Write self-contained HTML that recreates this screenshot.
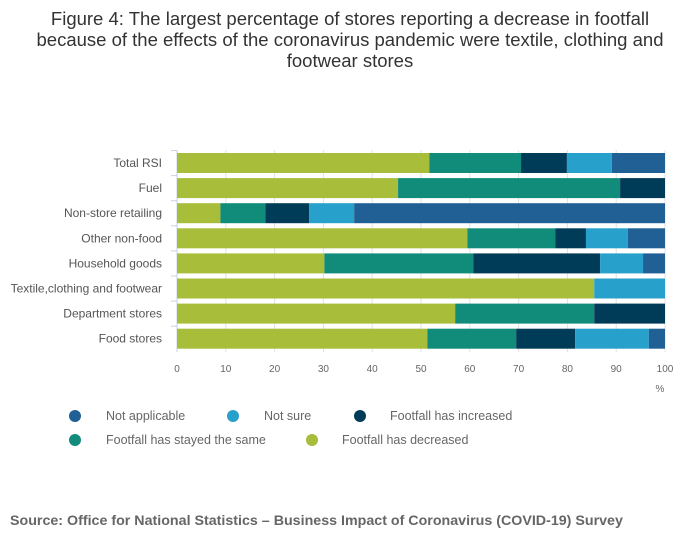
<!DOCTYPE html>
<html><head><meta charset="utf-8">
<style>
body{margin:0;background:#fff;font-family:"Liberation Sans",sans-serif;}
#wrap{position:relative;width:700px;height:549px;overflow:hidden;}
h1{position:absolute;left:30px;top:8px;width:640px;margin:0;text-align:center;font-weight:normal;font-size:18.5px;line-height:21px;color:#333;}
#src{position:absolute;left:10px;top:513px;font-size:14.25px;font-weight:bold;color:#666;white-space:nowrap;}
</style></head><body>
<div id="wrap">
<h1>Figure 4: The largest percentage of stores reporting a decrease in footfall because of the effects of the coronavirus pandemic were textile, clothing and footwear stores</h1>
<svg id="chart" width="700" height="549" style="position:absolute;left:0;top:0"></svg>
<div id="src">Source: Office for National Statistics – Business Impact of Coronavirus (COVID-19) Survey</div>
</div>
<script>
const categories=["Total RSI","Fuel","Non-store retailing","Other non-food","Household goods","Textile,clothing and footwear","Department stores","Food stores"];
const decreased=[51.7,45.3,8.9,59.5,30.2,85.5,57.0,51.3];
const stayedSame=[18.8,45.5,9.2,18.0,30.5,0,28.5,18.2];
const increased=[9.4,9.2,9.0,6.3,26.0,0,14.5,12.1];
const notSure=[9.2,0,9.2,8.6,8.8,14.5,0,15.1];
const notApplicable=[10.9,0,63.7,7.6,4.5,0,0,3.3];
const ticks=[0,10,20,30,40,50,60,70,80,90,100];
const seriesNames=["Footfall has decreased","Footfall has stayed the same","Footfall has increased","Not sure","Not applicable"];
const seriesData=[decreased,stayedSame,increased,notSure,notApplicable];
const colors=["#a8bd3a","#118c7b","#003c57","#27a0cc","#206095"];
const NS="http://www.w3.org/2000/svg";
const svg=document.getElementById('chart');
const X0=177,X1=665,Y0=150,ROW=25.1,BH=20;
const x=v=>X0+(X1-X0)*v/100;
const yRow=i=>Y0+3+i*ROW;
function mk(t,a){const e=document.createElementNS(NS,t);for(const k in a)e.setAttribute(k,a[k]);svg.appendChild(e);return e;}
ticks.forEach(t=>{
  const g=mk('line',{x1:x(t),x2:x(t),y1:Y0,y2:352,stroke:t===0?'#c8d4e8':'#e2e2e2','stroke-width':1});
  
  
  const l=mk('text',{x:x(t),y:372,'text-anchor':'middle','font-size':10,fill:'#666'});
  l.textContent=t;
  
  
});
const pct=mk('text',{x:660,y:392,'text-anchor':'middle','font-size':10,fill:'#666'});pct.textContent='%';


categories.forEach((c,i)=>{
  const y=yRow(i);
  const tk=mk('line',{x1:171,x2:177,y1:y-2.5,y2:y-2.5,stroke:'#c8d4e8'});
  
  
  const l=mk('text',{x:162,y:y+BH/2+4,'text-anchor':'end','font-size':12,fill:'#555'});
  l.textContent=c;
  
  
  let acc=0;
  seriesData.forEach((s,j)=>{
    const v=s[i];
    if(v>0){
      const r=mk('rect',{x:x(acc),y:y,width:x(acc+v)-x(acc),height:BH,fill:colors[j]});
      
      
    }
    acc+=v;
  });
});
const leg=[[4,75,416,106],[3,233,416,264],[2,360,416,390],[1,75,440,106],[0,312,440,342]];
leg.forEach(([j,cx,cy,tx])=>{
  const c=mk('circle',{cx:cx,cy:cy,r:6,fill:colors[j]});
  
  
  const t=mk('text',{x:tx,y:cy+4,'font-size':12.5,fill:'#666'});
  t.textContent=seriesNames[j];
  
  
});
</script>
</body></html>
